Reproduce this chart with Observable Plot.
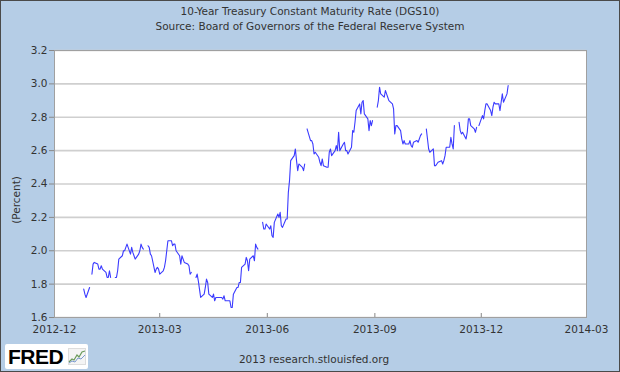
<!DOCTYPE html>
<html>
<head>
<meta charset="utf-8">
<script src="https://cdn.jsdelivr.net/npm/d3@7"></script>
<script src="https://cdn.jsdelivr.net/npm/@observablehq/plot@0.6"></script>
<style>
  body { margin: 0; background: #fff; }
  #wrap { position: relative; width: 620px; height: 372px; background: #b5cde6; overflow: hidden; font-family: "DejaVu Sans", Verdana, sans-serif; color: #333; }
  #wrap svg { position: absolute; left: 0; top: 0; background: transparent; }
  .t { position: absolute; white-space: nowrap; font-size: 10.5px; color: #333; }
  #border { position: absolute; inset: 0; border: 1px solid #4a4a4a; box-sizing: border-box; pointer-events: none; }
  #logo { position: absolute; left: 5px; top: 344px; width: 83px; height: 25px; background: #fff; border-radius: 2px; }
  #logo span { position: absolute; left: 3px; top: 1px; font-family: "Liberation Sans", Arial, sans-serif; font-weight: bold; font-size: 21px; letter-spacing: -0.5px; color: #000; }
  #logo svg { position: absolute; left: 63px; top: 4px; }
</style>
</head>
<body>
<div id="wrap"></div>
<script>
// ---- data (DGS10, daily, percent); null = no data (holiday) ----
const title = "10-Year Treasury Constant Maturity Rate (DGS10)";
const subtitle = "Source: Board of Governors of the Federal Reserve System";
const yLabel = "(Percent)";
const footer = "2013 research.stlouisfed.org";

const yTicks = [1.6, 1.8, 2.0, 2.2, 2.4, 2.6, 2.8, 3.0, 3.2];
const xTickLabels = ["2012-12", "2013-03", "2013-06", "2013-09", "2013-12", "2014-03"];

// each month: weekdays from first date (inclusive) to end date (exclusive)
const dec2012 = [1.77, 1.74, 1.72, 1.78];
const jan2013 = [null, 1.86, 1.92, 1.93, 1.92, 1.89, 1.89, 1.91, 1.89, 1.87, 1.84, 1.84, 1.88, 1.84, null, 1.84, 1.84, 1.88, 1.95, 1.97, 2.00, 2.00, 2.02];
const feb2013 = [2.04, 1.98, 2.02, 1.99, 1.97, 1.95, 1.98, 2.00, 2.04, 2.02, 2.01, null, 2.03, 2.02, 1.98, 1.97, 1.87, 1.89, 1.90, 1.89];
const mar2013 = [1.86, 1.88, 1.90, 1.94, 2.00, 2.06, 2.06, 2.03, 2.04, 2.04, 2.00, 1.97, 1.92, 1.97, 1.95, 1.93, 1.92, 1.91, 1.86, 1.87, null];
const apr2013 = [1.84, 1.86, 1.82, 1.77, 1.72, 1.74, 1.78, 1.83, 1.81, 1.74, 1.72, 1.74, 1.70, 1.72, 1.72, 1.72, 1.72, 1.71, 1.73, 1.70, 1.70, 1.70];
const may2013 = [1.66, 1.66, 1.74, 1.78, 1.78, 1.81, 1.81, 1.90, 1.92, 1.96, 1.94, 1.88, 1.95, 1.97, 1.94, 2.04, 2.02, 2.01, null, 2.17, 2.13, 2.13, 2.16];
const jun2013 = [2.13, 2.15, 2.09, 2.08, 2.17, 2.22, 2.20, 2.23, 2.15, 2.14, 2.19, 2.19, 2.35, 2.42, 2.54, 2.57, 2.61, 2.54, 2.48, 2.52];
const jul2013 = [2.50, 2.48, 2.52, null, 2.73, 2.66, 2.66, 2.64, 2.58, 2.59, 2.56, 2.53, 2.51, 2.55, 2.51, 2.50, 2.50, 2.59, 2.61, 2.57, 2.60, 2.63, 2.60];
const aug2013 = [2.71, 2.60, 2.64, 2.65, 2.60, 2.60, 2.58, 2.62, 2.72, 2.71, 2.77, 2.84, 2.88, 2.82, 2.89, 2.90, 2.82, 2.79, 2.72, 2.78, 2.75, 2.78];
const sep2013 = [null, 2.86, 2.90, 2.98, 2.94, 2.92, 2.96, 2.94, 2.92, 2.90, 2.88, 2.85, 2.70, 2.75, 2.75, 2.72, 2.67, 2.64, 2.66, 2.64, 2.64];
const oct2013 = [2.66, 2.63, 2.62, 2.65, 2.66, 2.65, 2.67, 2.69, 2.70, null, 2.73, 2.67, 2.61, 2.59, 2.61, 2.51, 2.51, 2.52, 2.53, 2.54, 2.52, 2.54, 2.57];
const nov2013 = [2.62, 2.62, 2.68, 2.64, 2.61, 2.75, null, 2.77, 2.72, 2.70, 2.71, 2.67, 2.71, 2.79, 2.79, 2.75, 2.73, 2.71, 2.74, null, 2.75];
const dec2013 = [2.81, 2.79, 2.84, 2.88, 2.88, 2.84, 2.81, 2.86, 2.89, 2.88, 2.88, 2.84, 2.89, 2.94, 2.89, 2.94, 2.99];

const months = [
  ["2012-12-26", "2013-01-01", dec2012],
  ["2013-01-01", "2013-02-01", jan2013],
  ["2013-02-01", "2013-03-01", feb2013],
  ["2013-03-01", "2013-04-01", mar2013],
  ["2013-04-01", "2013-05-01", apr2013],
  ["2013-05-01", "2013-06-01", may2013],
  ["2013-06-01", "2013-07-01", jun2013],
  ["2013-07-01", "2013-08-01", jul2013],
  ["2013-08-01", "2013-09-01", aug2013],
  ["2013-09-01", "2013-10-01", sep2013],
  ["2013-10-01", "2013-11-01", oct2013],
  ["2013-11-01", "2013-12-01", nov2013],
  ["2013-12-01", "2013-12-25", dec2013]
];

const parse = d3.utcParse("%Y-%m-%d");
const data = [];
for (const [s, e, vals] of months) {
  const days = d3.utcDays(parse(s), parse(e)).filter(d => d.getUTCDay() % 6 !== 0);
  if (days.length !== vals.length) console.error("length mismatch", s, days.length, vals.length);
  days.forEach((d, i) => data.push({date: d, rate: vals[i] == null ? NaN : vals[i]}));
}

const xTicks = xTickLabels.map(d3.utcParse("%Y-%m"));
const W = 620, H = 372, mL = 54, mR = 34, mT = 50, mB = 55;

const chart = Plot.plot({
  width: W, height: H,
  marginLeft: mL, marginRight: mR, marginTop: mT, marginBottom: mB,
  style: {fontFamily: "DejaVu Sans, Verdana, sans-serif", fontSize: "10.5px", background: "transparent", overflow: "visible"},
  x: {type: "utc", domain: [xTicks[0], xTicks[xTicks.length - 1]]},
  y: {domain: [1.6, 3.2]},
  marks: [
    Plot.frame({fill: "#fff", stroke: "none"}),
    Plot.gridY(yTicks, {stroke: "#cfcfcf", strokeOpacity: 1, strokeWidth: 1.6}),
    Plot.frame({stroke: "#a0a0a0", strokeWidth: 1}),
    Plot.axisY(yTicks, {tickSize: 5, tickPadding: 2, tickFormat: d3.format(".1f"), label: null, stroke: "#888", fill: "#333"}),
    Plot.axisX(xTicks, {tickSize: 0, tickPadding: 8, tickFormat: d3.utcFormat("%Y-%m"), label: null, fill: "#333"}),
    Plot.tickX(xTicks.slice(1, -1), {x: d => d, stroke: "#888", insetTop: H - mT - mB - 4}),
    Plot.line(data, {x: "date", y: "rate", stroke: "#3b3bff", strokeWidth: 1.1})
  ]
});

const wrap = document.getElementById("wrap");
wrap.appendChild(chart);

function addText(txt, css) {
  const d = document.createElement("div");
  d.className = "t";
  d.textContent = txt;
  Object.assign(d.style, css);
  wrap.appendChild(d);
  return d;
}
addText(title, {left: "0", width: "620px", textAlign: "center", top: "5px"});
addText(subtitle, {left: "0", width: "620px", textAlign: "center", top: "20px"});
addText(yLabel, {left: "16px", top: "200px", transform: "translate(-50%,-50%) rotate(-90deg)"});
addText(footer, {left: "0", width: "628px", textAlign: "center", top: "353px"});

const logo = document.createElement("div");
logo.id = "logo";
logo.innerHTML = '<span>FRED</span><svg width="18" height="17" viewBox="0 0 18 17"><rect x="0.5" y="0.5" width="17" height="16" fill="#f4f4f4" stroke="#ddd"/><polyline points="1,14 4,11 6,12 9,7 11,9 14,4 17,3" fill="none" stroke="#6a9a5a" stroke-width="1.2"/><polyline points="1,15 4,13 7,14 10,10 13,11 17,7" fill="none" stroke="#7a9ad0" stroke-width="1"/></svg>';
wrap.appendChild(logo);

const border = document.createElement("div");
border.id = "border";
wrap.appendChild(border);
</script>
</body>
</html>
